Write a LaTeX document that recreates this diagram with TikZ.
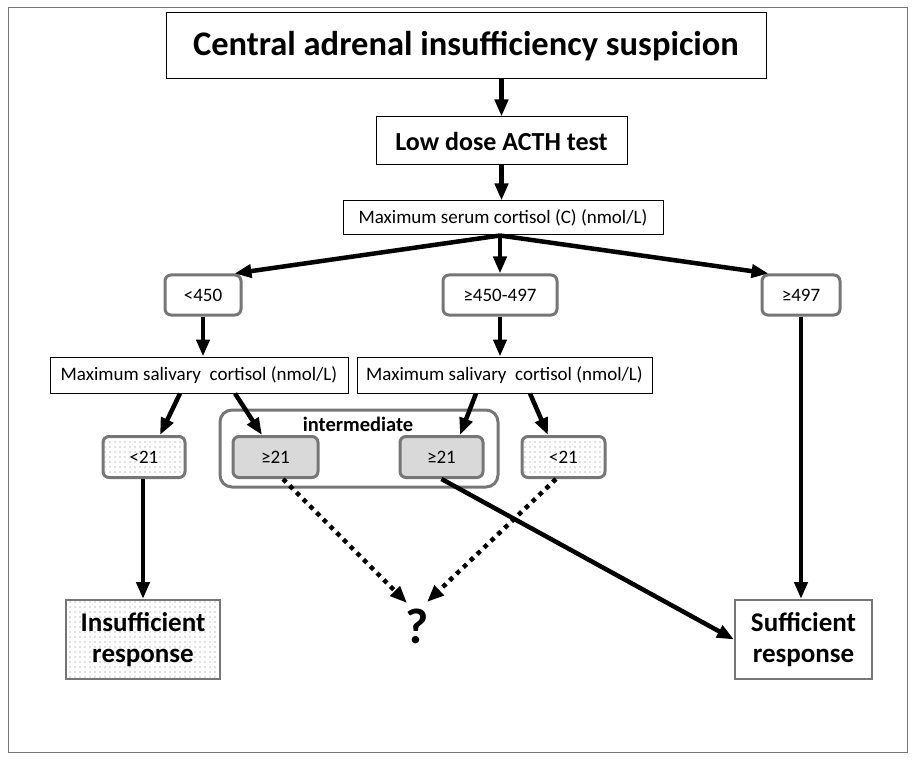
\documentclass[tikz,border=0pt]{standalone}
\usepackage{fontspec}
\setmainfont{Carlito}
\usetikzlibrary{arrows.meta,patterns.meta}
\definecolor{bordergray}{RGB}{118,118,118}
\definecolor{fillgray}{RGB}{217,217,217}
\tikzset{
  sqbox/.style={draw=black,line width=1pt,fill=white,inner sep=2pt,align=center},
  rbox/.style={draw=bordergray,line width=3pt,rounded corners=6pt,fill=white,inner sep=2pt,align=center,font=\fontsize{19}{22}\selectfont},
  smalltext/.style={font=\fontsize{19}{22}\selectfont},
  bigbox/.style={draw=bordergray,line width=2pt,fill=white,minimum height=79pt,align=center,font=\fontsize{27}{31}\bfseries\selectfont},
  dotfill/.style={pattern={Dots[distance=5pt,radius=0.55pt]},pattern color=gray},
  arr/.style={line width=4.5pt,-{Triangle[length=17pt,width=13pt]}},
  darr/.style={line width=4.5pt,dash pattern=on 4.5pt off 5pt,-{Triangle[length=17pt,width=13pt]}},
}
\begin{document}
\begin{tikzpicture}[x=1pt,y=-1pt]
\useasboundingbox (0,0) rectangle (916,762);
\draw[draw=bordergray,line width=1pt] (8,8) rectangle (907,752);

\node[sqbox,minimum width=600pt,minimum height=66pt,font=\fontsize{34.5}{38}\bfseries\selectfont] (central) at (466,46) {Central adrenal insufficiency suspicion};
\node[sqbox,minimum width=251pt,minimum height=48pt,font=\fontsize{26}{30}\bfseries\selectfont] (acth) at (501.5,141) {Low dose ACTH test};
\node[sqbox,minimum width=320pt,minimum height=34pt,smalltext] (serum) at (503,218) {Maximum serum cortisol (C) (nmol/L)};

\node[rbox,minimum width=76pt,minimum height=40pt] (lt450) at (203,295) {<450};
\node[rbox,minimum width=114pt,minimum height=40pt] (mid) at (500,295) {≥450-497};
\node[rbox,minimum width=78pt,minimum height=40pt] (ge497) at (801,295) {≥497};

\node[sqbox,minimum width=298pt,minimum height=36pt,smalltext] (sal1) at (199,375) {Maximum salivary\ \ cortisol (nmol/L)};
\node[sqbox,minimum width=295pt,minimum height=36pt,smalltext] (sal2) at (504.5,375) {Maximum salivary\ \ cortisol (nmol/L)};

\draw[draw=bordergray,line width=3pt,rounded corners=12pt] (220,410) rectangle (498,487);
\node[font=\fontsize{20.5}{24}\bfseries\selectfont] (interm) at (358,424) {intermediate};

\node[rbox,minimum width=82pt,minimum height=41pt] (lt21a) at (144,457) {};
\fill[dotfill] ([shift={(3,-3)}]lt21a.south west) rectangle ([shift={(-3,3)}]lt21a.north east);
\node[smalltext] at (lt21a) {<21};
\node[rbox,minimum width=85pt,minimum height=41pt,fill=fillgray] (ge21a) at (275.5,457) {≥21};
\node[rbox,minimum width=83pt,minimum height=41pt,fill=fillgray] (ge21b) at (441.5,457) {≥21};
\node[rbox,minimum width=83pt,minimum height=41pt] (lt21b) at (563.5,457) {};
\fill[dotfill] ([shift={(3,-3)}]lt21b.south west) rectangle ([shift={(-3,3)}]lt21b.north east);
\node[smalltext] at (lt21b) {<21};

\node[bigbox,minimum width=154pt] (insuf) at (143,639.5) {};
\fill[dotfill] ([shift={(2,-2)}]insuf.south west) rectangle ([shift={(-2,2)}]insuf.north east);
\node[align=center,font=\fontsize{27}{31}\bfseries\selectfont] at (insuf) {Insufficient\\response};
\node[bigbox,minimum width=137pt] (suf) at (803.5,639.5) {Sufficient\\response};

\node[font=\fontsize{50}{54}\bfseries\selectfont] (q) at (417,626) {?};

\draw[arr] (central.south -| acth) -- (acth.north);
\draw[arr] (acth.south) -- (serum.north -| acth);
\draw[arr] (serum.south -| mid) -- ([xshift=-8pt]lt450.north east);
\draw[arr] (serum.south -| mid) -- (mid.north);
\draw[arr] (serum.south -| mid) -- ([xshift=8pt]ge497.north west);
\draw[arr] (lt450.south) -- (sal1.north -| lt450);
\draw[arr] (mid.south) -- (sal2.north -| mid);
\draw[arr] ([xshift=-19pt]sal1.south) -- ([xshift=16pt]lt21a.north);
\draw[arr] ([xshift=36pt]sal1.south) -- ([xshift=-13.5pt]ge21a.north);
\draw[arr] ([xshift=-28.5pt]sal2.south) -- ([xshift=18.5pt]ge21b.north);
\draw[arr] ([xshift=25.5pt]sal2.south) -- ([xshift=-15.5pt]lt21b.north);
\draw[arr] (lt21a.south -| insuf) -- (insuf.north);
\draw[arr] (ge497.south) -- (suf.north -| ge497);
\draw[arr] (ge21b.south) -- (suf.west);
\draw[darr] ([xshift=7.5pt]ge21a.south) -- ([shift={(-10,-23)}]q.center);
\draw[darr] ([xshift=-7.5pt]lt21b.south) -- ([shift={(10,-24)}]q.center);
\end{tikzpicture}
\end{document}
